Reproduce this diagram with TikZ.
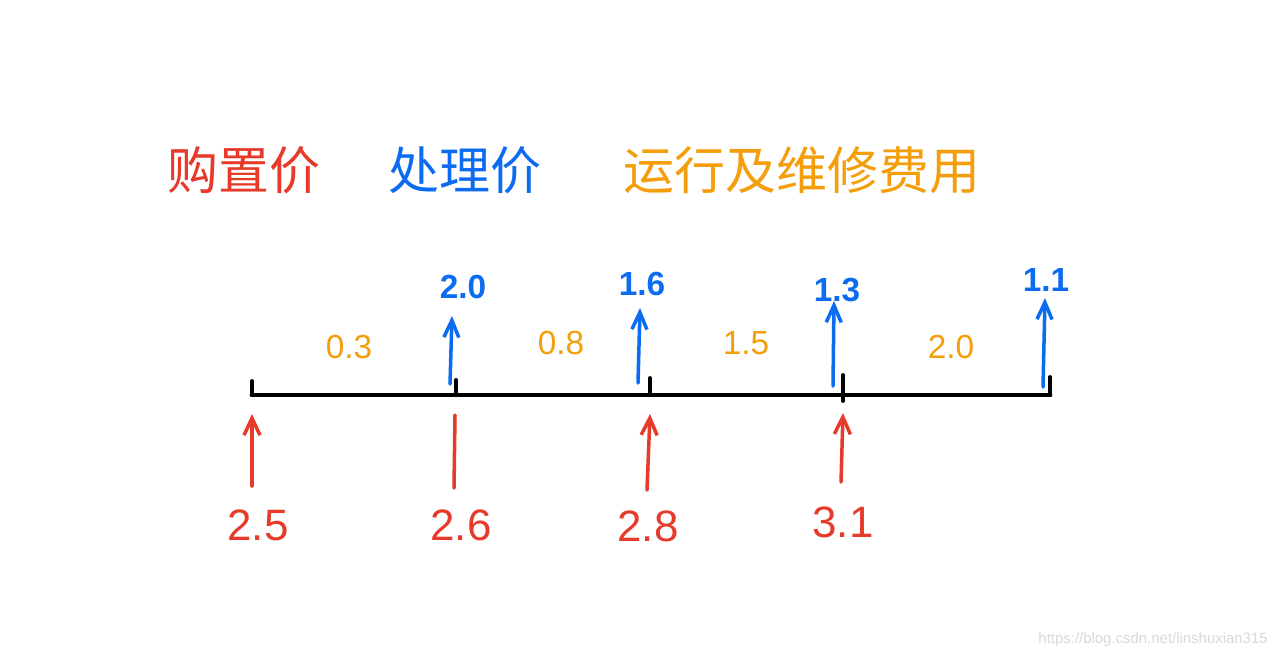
\documentclass[tikz,border=0pt]{standalone}
\usepackage{fontspec}
\setmainfont{Liberation Sans}
\newfontfamily\cjk{Noto Sans CJK SC}
\usepackage{xcolor}
\usetikzlibrary{arrows.meta}

\definecolor{buyred}{HTML}{E63A2A}
\definecolor{dealblue}{HTML}{0B6CF2}
\definecolor{runorange}{HTML}{F59E0B}

\begin{document}
\begin{tikzpicture}[
  x=0.2mm, y=-0.2mm,
  title/.style={font=\cjk\fontsize{29}{30}\selectfont, inner sep=0pt},
  axis/.style={line width=2.8pt, line cap=round},
  tick/.style={line width=2.2pt, line cap=round},
  redarr/.style={buyred, line width=2pt, line cap=round, -{Straight Barb[length=3.4mm, width=3.2mm, line width=2pt]}},
  redbar/.style={buyred, line width=2pt, line cap=round},
  bluearr/.style={dealblue, line width=2pt, line cap=round, -{Straight Barb[length=3.4mm, width=3mm, line width=2pt]}},
  bnum/.style={dealblue, font=\fontsize{19}{20}\selectfont\bfseries, inner sep=0pt},
  onum/.style={runorange, font=\fontsize{19}{20}\selectfont, inner sep=0pt},
  rnum/.style={buyred, font=\fontsize{25}{26}\selectfont, inner sep=0pt},
]
\useasboundingbox[fill=white] (0,0) rectangle (1279,660);

% legend
\node[title, buyred]    (buy)  at (244,170) {购置价};
\node[title, dealblue]  (deal) at (465,170) {处理价};
\node[title, runorange] (run)  at (802,170) {运行及维修费用};

% time axis
\coordinate (t0) at (252,395);
\coordinate (t1) at (456,395);
\coordinate (t2) at (650,395);
\coordinate (t3) at (843,395);
\coordinate (t4) at (1050,395);
\draw[axis] (t0) -- (t4);
\draw[tick] (t0) -- ++(0,-14);
\draw[tick] (t1) -- ++(0,-15);
\draw[tick] (t2) -- ++(0,-17);
\draw[tick] (t3) -- ++(0,-20) (t3) -- ++(0,6);
\draw[tick] (t4) -- ++(0,-18);

% disposal values (blue, up)
\coordinate (b1) at (450,384);  \coordinate (b1e) at (452,316);
\coordinate (b2) at (638,383);  \coordinate (b2e) at (640,308);
\coordinate (b3) at (833,386);  \coordinate (b3e) at (834,301);
\coordinate (b4) at (1043,387); \coordinate (b4e) at (1045,298);
\draw[bluearr] (b1) -- (b1e);
\draw[bluearr] (b2) -- (b2e);
\draw[bluearr] (b3) -- (b3e);
\draw[bluearr] (b4) -- (b4e);
\node[bnum] (d1) at (463,287) {2.0};
\node[bnum] (d2) at (642,284) {1.6};
\node[bnum] (d3) at (837,290) {1.3};
\node[bnum] (d4) at (1046,280) {1.1};

% running and repair costs
\node[onum] (c1) at (349,347) {0.3};
\node[onum] (c2) at (561,343) {0.8};
\node[onum] (c3) at (746,343) {1.5};
\node[onum] (c4) at (951,347) {2.0};

% purchase prices (red)
\coordinate (r1) at (252,486); \coordinate (r1e) at (252,414);
\coordinate (r2) at (454,488); \coordinate (r2e) at (455,415);
\coordinate (r3) at (647,490); \coordinate (r3e) at (650,414);
\coordinate (r4) at (841,482); \coordinate (r4e) at (843,413);
\draw[redarr] (r1) -- (r1e);
\draw[redbar] (r2) -- (r2e);
\draw[redarr] (r3) -- (r3e);
\draw[redarr] (r4) -- (r4e);
\node[rnum] (p1) at (258,525) {2.5};
\node[rnum] (p2) at (461,525) {2.6};
\node[rnum] (p3) at (648,526) {2.8};
\node[rnum] (p4) at (843,522) {3.1};

\node[black!15, font=\fontsize{8.5}{9}\selectfont, anchor=east, inner sep=0pt] (url) at (1268,640) {https://blog.csdn.net/linshuxian315};
\end{tikzpicture}
\end{document}
